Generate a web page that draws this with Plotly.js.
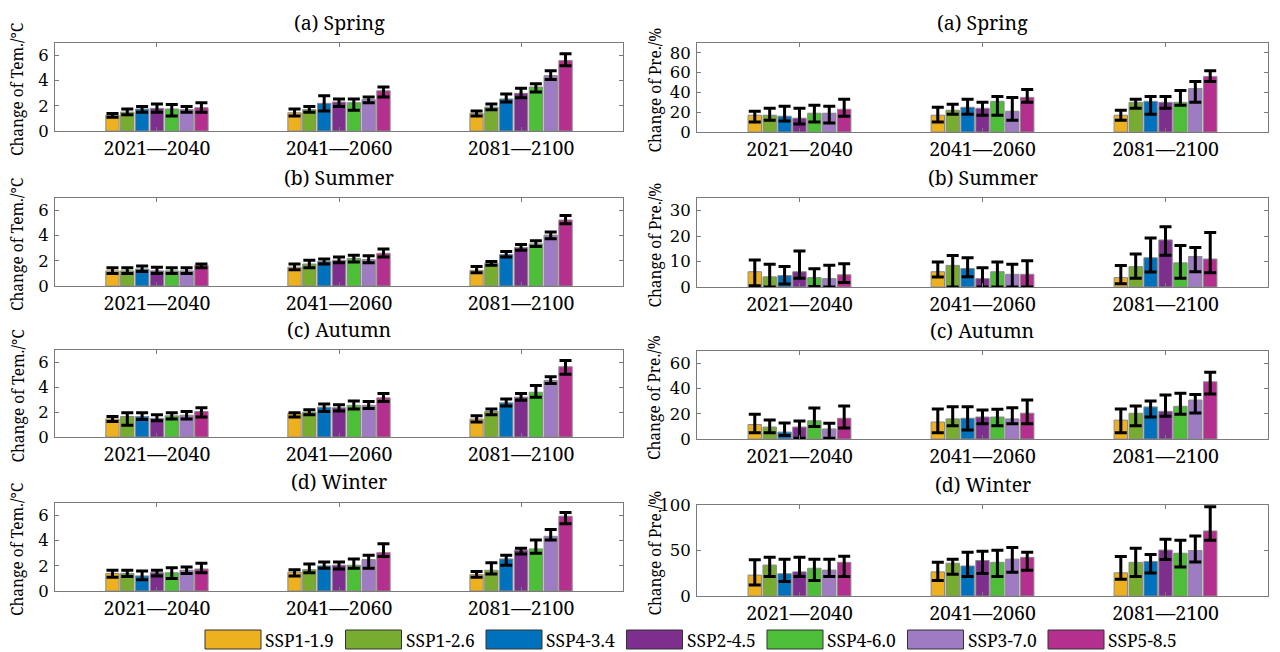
<!DOCTYPE html>
<html>
<head>
<meta charset="utf-8">
<script src="https://cdn.plot.ly/plotly-3.0.1.min.js"></script>
<style>html,body{margin:0;padding:0;background:#fff;}#chart{width:1280px;height:652px;}</style>
</head>
<body>
<div id="chart"></div>
<script>
// ---------- data ----------
const periods = ['2021\u20142040', '2041\u20142060', '2081\u20142100'];
const scenarios = ['SSP1-1.9', 'SSP1-2.6', 'SSP4-3.4', 'SSP2-4.5', 'SSP4-6.0', 'SSP3-7.0', 'SSP5-8.5'];
const colors = ['#EDB120', '#77AC30', '#0072BD', '#7E2F8E', '#4DBE38', '#9E7BC2', '#B5308E'];
const panelTitles = ['(a) Spring', '(b) Summer', '(c) Autumn', '(d) Winter'];

// each row = one scenario, values for the three periods
const tSpringBar = [[1.25,1.45,1.4],[1.5,1.7,1.9],[1.75,2.2,2.55],[1.8,2.3,3.0],[1.75,2.25,3.5],[1.7,2.5,4.4],[1.85,3.2,5.6]];
const tSpringHi  = [[1.4,1.75,1.6],[1.75,1.95,2.15],[1.95,2.8,2.95],[2.15,2.55,3.4],[2.1,2.55,3.75],[1.95,2.7,4.8],[2.25,3.5,6.15]];
const tSpringLo  = [[1.1,1.2,1.2],[1.3,1.5,1.7],[1.5,1.6,2.3],[1.5,1.95,2.65],[1.2,1.65,3.1],[1.5,2.25,4.1],[1.5,2.7,5.2]];

const pSpringBar = [[17,17,17],[17,22,30],[16,25,31],[14,24,30],[19,31,30],[19,21,44],[23,35,56]];
const pSpringHi  = [[21,25,22],[24,28,33],[26,33,36],[24,30,36],[27,36,42],[26,35,51],[33,43,62]];
const pSpringLo  = [[10,10,12],[12,18,24],[11,18,18],[8,17,24],[10,17,27],[9,12,30],[16,30,51]];

const tSummerBar = [[1.2,1.5,1.25],[1.2,1.75,1.8],[1.35,1.95,2.5],[1.2,2.05,3.05],[1.2,2.2,3.35],[1.2,2.1,4.05],[1.65,2.6,5.25]];
const tSummerHi  = [[1.45,1.75,1.55],[1.45,2.05,1.95],[1.6,2.15,2.75],[1.5,2.3,3.3],[1.45,2.45,3.6],[1.45,2.4,4.3],[1.75,2.95,5.6]];
const tSummerLo  = [[1.0,1.3,1.05],[1.0,1.45,1.65],[1.15,1.75,2.3],[1.0,1.85,2.85],[1.0,1.9,3.15],[1.0,1.85,3.75],[1.45,2.3,4.95]];

const pSummerBar = [[6,6,3.7],[4,8.5,8],[4.5,7.3,11.5],[6,3.3,18.5],[3.7,6,9.5],[3.3,5,12],[4.8,5,11]];
const pSummerHi  = [[10.6,9.8,8.5],[8.9,12.4,13],[8.1,11.5,19.3],[14.2,7.6,23.7],[7.2,9.8,16.3],[8.6,8.9,15.5],[9.1,10.3,21.4]];
const pSummerLo  = [[0.5,3.9,1.3],[0,0,3.4],[1.2,4,5.9],[3.4,0,12.5],[0.2,0,3.4],[0,0,6],[1.8,0,5.6]];

const tAutumnBar = [[1.45,1.9,1.45],[1.65,2.0,2.05],[1.65,2.4,2.75],[1.5,2.35,3.2],[1.7,2.55,3.6],[1.75,2.55,4.55],[2.05,3.15,5.65]];
const tAutumnHi  = [[1.65,1.95,1.7],[1.95,2.2,2.25],[1.95,2.65,3.05],[1.8,2.6,3.5],[1.95,2.9,4.15],[2.05,2.85,4.85],[2.35,3.5,6.15]];
const tAutumnLo  = [[1.25,1.6,1.2],[0.95,1.8,1.8],[1.4,2.05,2.5],[1.3,2.1,2.95],[1.45,2.25,3.2],[1.45,2.3,4.3],[1.6,2.85,5.05]];

const pAutumnBar = [[11.5,13.5,15],[9.5,16,20.5],[5.5,16.5,25.5],[9.5,17.5,22],[14.5,17.5,26],[8,16,31],[16.5,20.5,45.5]];
const pAutumnHi  = [[19.6,23.9,23.9],[15.1,25.7,26.3],[12.7,25.7,30.2],[14.3,23,35],[24.7,23.6,36.3],[12.5,24.9,35.3],[26.3,31,53]];
const pAutumnLo  = [[5,5,5],[5,10.6,10.6],[2.7,7.2,17.5],[0.5,12.2,18],[10,10.6,19.6],[0.5,12.2,20.7],[8.8,12.2,35.8]];

const tWinterBar = [[1.4,1.5,1.3],[1.4,1.7,1.65],[1.2,2.0,2.55],[1.45,2.05,3.25],[1.45,2.05,3.35],[1.65,2.5,4.35],[1.75,3.05,5.95]];
const tWinterHi  = [[1.65,1.7,1.55],[1.65,2.15,2.25],[1.6,2.3,2.85],[1.65,2.3,3.4],[1.85,2.55,4.05],[1.9,2.85,4.9],[2.2,3.75,6.25]];
const tWinterLo  = [[1.1,1.2,1.1],[1.15,1.45,1.35],[0.9,1.8,2.05],[1.2,1.75,2.95],[1.0,1.8,3.0],[1.4,1.8,4.05],[1.45,2.75,5.35]];

const pWinterBar = [[23,26.5,25.5],[34,36,37],[24.5,33,38],[26.5,39,50.5],[30.5,37,47],[28.5,40.5,50],[37,42.5,71.5]];
const pWinterHi  = [[39.7,37,43.4],[42.6,40.4,52.6],[40.4,48.2,45.6],[42.6,49.3,62.5],[40.4,50.4,61.4],[40.4,53.3,65.8],[43.8,48.2,98.2]];
const pWinterLo  = [[12,17,18.4],[21.3,24,21.3],[15.8,21.3,25.4],[21.3,24.6,40],[17,21.3,32],[21.3,26,37.5],[21.3,28.3,61.4]];

const tempRanges = [[0,7],[0,7],[0,7],[0,7]];
const tempTicks = [0,2,4,6];
const preRanges = [[0,90],[0,35],[0,70],[0,100]];
const preTicks = [[0,20,40,60,80],[0,10,20,30],[0,20,40,60],[0,50,100]];

// ---------- build ----------
const W = 1280, H = 652;
const FONT = 'Noto Serif, DejaVu Serif, serif';
const TICKFONT = 'DejaVu Serif, Noto Serif, serif';
const panels = [
  {bar:tSpringBar, hi:tSpringHi, lo:tSpringLo, col:0, row:0},
  {bar:pSpringBar, hi:pSpringHi, lo:pSpringLo, col:1, row:0},
  {bar:tSummerBar, hi:tSummerHi, lo:tSummerLo, col:0, row:1},
  {bar:pSummerBar, hi:pSummerHi, lo:pSummerLo, col:1, row:1},
  {bar:tAutumnBar, hi:tAutumnHi, lo:tAutumnLo, col:0, row:2},
  {bar:pAutumnBar, hi:pAutumnHi, lo:pAutumnLo, col:1, row:2},
  {bar:tWinterBar, hi:tWinterHi, lo:tWinterLo, col:0, row:3},
  {bar:pWinterBar, hi:pWinterHi, lo:pWinterLo, col:1, row:3}
];
const colX = [[55,623],[697,1268]];
const rowY = [
  [[43,131],[198,286],[350,437],[503,591]],
  [[43,132],[198,287],[351,439],[505,596]]
];
const xVals = [1,2,3];

const traces = [];
const layout = {
  width: W, height: H,
  margin: {l:0, r:0, t:0, b:0},
  paper_bgcolor: '#fff', plot_bgcolor: '#fff',
  barmode: 'group', bargap: 0.43, bargroupgap: 0.1,
  showlegend: false,
  font: {family: FONT, color: '#000', size: 19},
  annotations: [], shapes: []
};

panels.forEach((p, i) => {
  const n = i + 1;
  const xa = 'x' + (n === 1 ? '' : n), ya = 'y' + (n === 1 ? '' : n);
  scenarios.forEach((s, k) => {
    traces.push({
      type: 'bar', name: s, x: xVals, y: p.bar[k],
      xaxis: xa, yaxis: ya,
      marker: {color: colors[k], line: {color: '#8a8a8a', width: 1}},
      error_y: {
        type: 'data', symmetric: false,
        array: p.hi[k].map((v, j) => v - p.bar[k][j]),
        arrayminus: p.bar[k].map((v, j) => v - p.lo[k][j]),
        color: '#000', thickness: 3, width: 6
      },
      hoverinfo: 'name+y'
    });
  });
  const xd = colX[p.col], yd = rowY[p.col][p.row];
  const axLine = {showline: true, linecolor: '#7a7a7a', linewidth: 1, mirror: 'ticks',
                  ticks: 'inside', ticklen: 4, tickcolor: '#7a7a7a', showgrid: false, zeroline: false,
                  fixedrange: true};
  layout['xaxis' + (n === 1 ? '' : n)] = Object.assign({}, axLine, {
    domain: [xd[0] / W, xd[1] / W], anchor: ya,
    range: [0.44, 3.56], tickvals: xVals, ticktext: periods,
    tickfont: {family: FONT, size: 19.5, color: '#000'}
  });
  const yr = p.col === 0 ? tempRanges[p.row] : preRanges[p.row];
  const yt = p.col === 0 ? tempTicks : preTicks[p.row];
  layout['yaxis' + (n === 1 ? '' : n)] = Object.assign({}, axLine, {
    domain: [1 - yd[1] / H, 1 - yd[0] / H], anchor: xa,
    range: yr, tickvals: yt, ticklabelstandoff: 2,
    tickfont: {family: TICKFONT, size: 16.5, color: '#000'}
  });
  // panel title
  layout.annotations.push({
    xref: 'paper', yref: 'paper', x: (xd[0] + xd[1]) / 2 / W, y: 1 - (yd[0] - 21) / H,
    text: panelTitles[p.row], showarrow: false, xanchor: 'center', yanchor: 'middle',
    font: {family: FONT, size: 19.5, color: '#000'}
  });
  // y-axis title
  layout.annotations.push({
    xref: 'paper', yref: 'paper', x: (p.col === 0 ? 17 : 654) / W, y: 1 - ((yd[0] + yd[1]) / 2 + 3) / H,
    text: p.col === 0 ? 'Change of Tem./\u00B0C' : 'Change of Pre./%', showarrow: false,
    textangle: -90, xanchor: 'center', yanchor: 'middle',
    font: {family: FONT, size: 15.5, color: '#000'}
  });
});

// custom legend (wide swatches as in the reference)
const legX0 = 205, legStep = 140.5, legW = 56, legY0 = 630, legY1 = 649;
scenarios.forEach((s, k) => {
  const x0 = legX0 + k * legStep;
  layout.shapes.push({
    type: 'rect', xref: 'paper', yref: 'paper',
    x0: x0 / W, x1: (x0 + legW) / W, y0: 1 - legY1 / H, y1: 1 - legY0 / H,
    fillcolor: colors[k], line: {color: '#333', width: 1}
  });
  layout.annotations.push({
    xref: 'paper', yref: 'paper', x: (x0 + legW + 2) / W, y: 1 - (legY0 + legY1) / 2 / H,
    text: s, showarrow: false, xanchor: 'left', yanchor: 'middle',
    font: {family: FONT, size: 17.5, color: '#000'}
  });
});

Plotly.newPlot('chart', traces, layout, {staticPlot: true, displayModeBar: false});
</script>
</body>
</html>
